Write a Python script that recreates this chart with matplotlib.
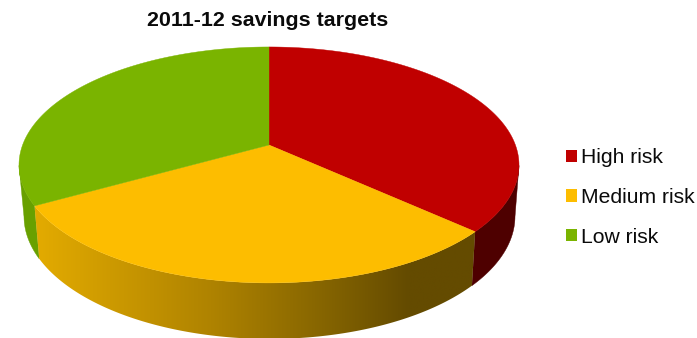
import numpy as np
import matplotlib
matplotlib.use("Agg")
import matplotlib.pyplot as plt
from matplotlib.patches import Patch, Polygon
from matplotlib.colors import LinearSegmentedColormap

plt.rcParams['font.family'] = ['Liberation Sans', 'DejaVu Sans']

# Datos del grafico
categorias = ["High risk", "Medium risk", "Low risk"]
valores = [36.7, 30.2, 33.1]
colores = ["#C00000", "#FDBD00", "#7AB400"]
titulo = "2011-12 savings targets"

# Parametros de la perspectiva del disco (en pixeles)
cx, cy = 269.0, 145.0
esc_x, esc_y, k = 246.4, 90.1, -0.169


def tapa(theta):
    # Proyecta un angulo (desde arriba, horario) sobre el borde superior
    u, v = np.sin(theta), -np.cos(theta)
    w = 1 + k * v
    return cx + esc_x * u / w, (cy + esc_y * v) / w


def base(theta):
    # Borde inferior del disco, un poco mas estrecho y desplazado hacia abajo
    x, y = tapa(theta)
    return cx + 0.5 + 0.982 * (x - cx), cy + 1.04 * (y - cy) + 50.5


def lado(t0, t1):
    t = np.linspace(t0, t1, 200)
    x0, y0 = tapa(t)
    x1, y1 = base(t)
    return np.column_stack([np.r_[x0, x1[::-1]], np.r_[y0, y1[::-1]]])


fig = plt.figure(figsize=(6.97, 3.38), dpi=100)
ax = fig.add_axes([0, 0, 1, 1])
ax.set_xlim(0, 697)
ax.set_ylim(338, 0)
ax.axis("off")

# Angulos acumulados de cada porcion
fracciones = np.array(valores) / np.sum(valores)
cortes = np.r_[0, np.cumsum(fracciones)] * 2 * np.pi

# Paredes laterales visibles, desde el punto mas ancho del disco
izq, der = np.radians(260), np.radians(100)
grad = LinearSegmentedColormap.from_list("pared", [
    (0.0, "#E3AB00"), (0.40, "#AF8300"), (0.63, "#8A6800"), (0.85, "#644B00"), (1.0, "#644B00")])
ax.add_patch(Polygon(lado(der, cortes[1]), closed=True, fc="#4E0000", ec="#4E0000", lw=0.3, zorder=1))
ax.add_patch(Polygon(lado(cortes[2], izq), closed=True, fc="#68A000", ec="#68A000", lw=0.3, zorder=1))
pared = Polygon(lado(cortes[1], cortes[2]), closed=True, fc="none", ec="none", transform=ax.transData)
ax.add_patch(pared)
img = ax.imshow(np.linspace(0, 1, 256).reshape(1, -1), cmap=grad, aspect="auto",
                extent=(35, 475, 340, 200), zorder=2, interpolation="bilinear")
img.set_clip_path(pared)
ax.set_xlim(0, 697)
ax.set_ylim(338, 0)

# Cara superior
for i, color in enumerate(colores):
    t = np.linspace(cortes[i], cortes[i + 1], 200)
    x, y = tapa(t)
    puntos = np.column_stack([np.r_[cx, x], np.r_[cy, y]])
    ax.add_patch(Polygon(puntos, closed=True, fc=color, ec=color, lw=0.3, zorder=3))

ax.text(267.5, 21, titulo, fontsize=15.4, fontweight="bold", ha="center", va="center", color="#0A0A0A")

parches = [Patch(fc=c, ec="none") for c in colores]
ax.legend(parches, categorias, frameon=False, fontsize=15.2, loc="center left",
          bbox_to_anchor=(566 / 697, 1 - 197.5 / 338), borderaxespad=0, borderpad=0,
          handlelength=0.52, handleheight=0.52, handletextpad=0.2, labelspacing=0.98,
          labelcolor="#0A0A0A")

fig.savefig("out.png", dpi=100)
